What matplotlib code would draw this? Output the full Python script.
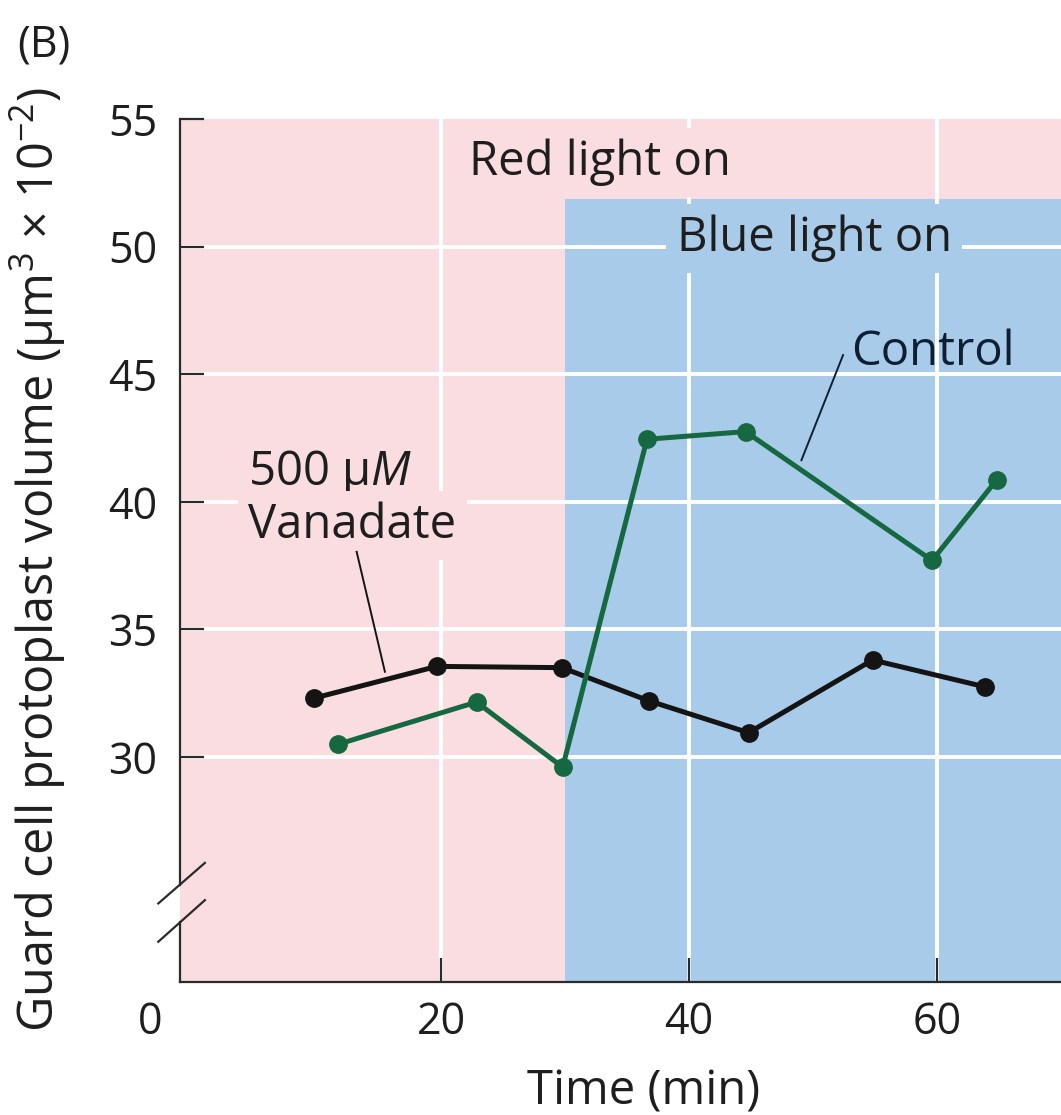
import matplotlib
matplotlib.use("Agg")
import matplotlib.pyplot as plt
from matplotlib.patches import Rectangle

# ---------------- data ----------------
vanadate_t = [9.7, 19.65, 29.75, 36.75, 44.8, 54.8, 63.85]
vanadate_v = [32.3, 33.55, 33.5, 32.2, 30.95, 33.8, 32.75]
control_t = [11.7, 22.85, 29.8, 36.6, 44.55, 59.6, 64.8]
control_v = [30.5, 32.15, 29.6, 42.45, 42.75, 37.7, 40.85]
x_ticks = [20, 40, 60]
y_ticks = [30, 35, 40, 45, 50, 55]
blue_on_time = 30

# ---------------- style ----------------
FONT = "Open Sans"
plt.rcParams["font.family"] = [FONT, "DejaVu Sans"]
plt.rcParams["mathtext.fontset"] = "custom"
plt.rcParams["mathtext.rm"] = FONT
plt.rcParams["mathtext.it"] = FONT + ":italic"
plt.rcParams["mathtext.bf"] = FONT + ":bold"

PINK = "#fadde0"
BLUE = "#a8cbea"
GREEN = "#15683f"
BLACK = "#141414"
TXT = "#1e1e1e"
FS = 34

W, H = 1061, 1115
fig = plt.figure(figsize=(W / 100, H / 100), dpi=100)
ax = fig.add_axes([180 / W, 1 - 982.3 / H, (1061 - 180) / W, (982.3 - 119) / H])
XMIN, XMAX = -1.07, 70
YMIN, YMAX = 21.17, 55
ax.set_xlim(XMIN, XMAX)
ax.set_ylim(YMIN, YMAX)

ax.set_facecolor(PINK)
ax.add_patch(Rectangle((blue_on_time, YMIN), XMAX - blue_on_time, 51.85 - YMIN,
                       facecolor=BLUE, edgecolor="none", zorder=0.5))

# white grid
for yv in y_ticks[:-1]:
    ax.axhline(yv, color="white", lw=2.8, zorder=1)
for xv in x_ticks:
    ax.axvline(xv, color="white", lw=2.8, zorder=1)

# data lines
ax.plot(vanadate_t, vanadate_v, color=BLACK, lw=3.6, marker="o", ms=12.5,
        zorder=4, solid_capstyle="round")
ax.plot(control_t, control_v, color=GREEN, lw=3.6, marker="o", ms=12.5,
        zorder=4, solid_capstyle="round")

# spines
for s in ["top", "right", "left"]:
    ax.spines[s].set_visible(False)
ax.spines["bottom"].set_linewidth(1.6)
ax.spines["bottom"].set_color("#2a2a2a")
ytr = ax.get_yaxis_transform()
ax.plot([0, 0], [25.0, YMAX], color="#2a2a2a", lw=1.6, transform=ytr, clip_on=False, zorder=6)
ax.plot([0, 0], [YMIN, 23.52], color="#2a2a2a", lw=1.6, transform=ytr, clip_on=False, zorder=6)
# break marks
ax.plot([-2.82, 0.94], [24.26, 25.85], color="#2a2a2a", lw=1.6, clip_on=False, zorder=6)
ax.plot([-2.82, 0.94], [22.76, 24.39], color="#2a2a2a", lw=1.6, clip_on=False, zorder=6)

# ticks
ax.set_xticks(x_ticks)
ax.set_yticks(y_ticks)
ax.tick_params(axis="both", direction="in", length=17, width=1.6, color="#2a2a2a",
               labelsize=31, labelcolor=TXT)
ax.tick_params(axis="x", pad=13)
ax.tick_params(axis="y", pad=16.5)
ax.annotate("0", xy=(-3.5, 0), xycoords=("data", "axes fraction"),
            xytext=(0, -13), textcoords="offset points", ha="center", va="top",
            fontsize=31, color=TXT, annotation_clip=False)

# axis labels
ax.annotate("Time (min)", xy=(36.3, 0), xycoords=("data", "axes fraction"),
            xytext=(0, -62), textcoords="offset points", ha="center", va="top",
            fontsize=FS, color=TXT, annotation_clip=False)
fig.text(38 / W, 1 - 560 / H,
         r"Guard cell protoplast volume ($\mathrm{\mu m}^{3}$ $\times$ 10$^{-2}$)",
         rotation=90, ha="center", va="center", fontsize=35, color=TXT)
fig.text(17 / W, 1 - 57 / H, "(B)", ha="left", va="baseline", fontsize=31, color=TXT)

# annotations
bpad = "square,pad=0.22"
ax.text(22.26, 52.8, "Red light on", fontsize=FS, color=TXT, va="baseline", ha="left",
        zorder=3, bbox=dict(boxstyle=bpad, fc=PINK, ec="none"))
ax.text(39.0, 49.82, "Blue light on", fontsize=FS, color=TXT, va="baseline", ha="left",
        zorder=3, bbox=dict(boxstyle=bpad, fc=BLUE, ec="none"))
ax.text(4.43, 40.65, r"500 $\mathrm{\mu}M$", fontsize=FS, color=TXT, va="baseline",
        ha="left", zorder=3, bbox=dict(boxstyle=bpad, fc=PINK, ec="none"))
ax.text(4.43, 38.57, "Vanadate", fontsize=FS, color=TXT, va="baseline", ha="left",
        zorder=3, bbox=dict(boxstyle=bpad, fc=PINK, ec="none"))
ax.text(53.1, 45.36, "Control", fontsize=FS, color="#0f1f33", va="baseline", ha="left",
        zorder=3)
ax.plot([13.18, 15.46], [38.04, 33.34], color=BLACK, lw=1.4, zorder=3.5)
ax.plot([52.42, 49.06], [45.75, 41.63], color="#0f1f33", lw=1.4, zorder=3.5)

fig.savefig("out.png", dpi=100)
